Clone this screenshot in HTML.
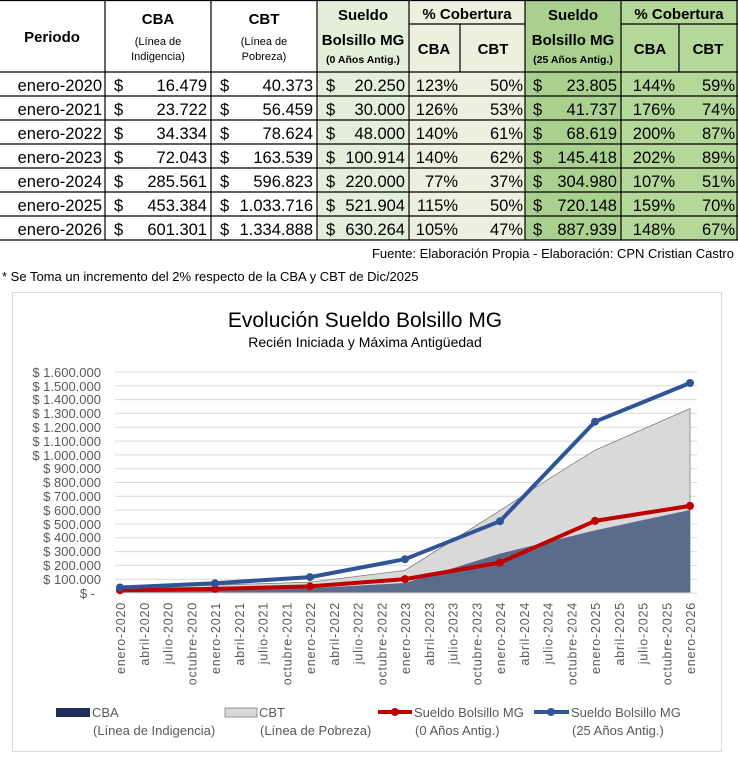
<!DOCTYPE html>
<html><head><meta charset="utf-8"><style>
body{margin:0;background:#fff;}
svg{display:block;font-family:"Liberation Sans",sans-serif;}
</style></head><body>
<svg width="738" height="768" viewBox="0 0 738 768" xmlns="http://www.w3.org/2000/svg">
<!-- table backgrounds -->
<rect x="317" y="0" width="92" height="240" fill="#e2efda"/>
<rect x="409" y="0" width="116" height="240" fill="#ebf1de"/>
<rect x="525" y="0" width="96" height="240" fill="#a9d08e"/>
<rect x="621" y="0" width="117" height="240" fill="#b4d79a"/>
<g stroke="#000" stroke-width="1.2">
<line x1="0" y1="0.5" x2="738" y2="0.5"/>
<line x1="409" y1="24" x2="525" y2="24"/><line x1="621" y1="24" x2="738" y2="24"/>
<line x1="0" y1="72" x2="738" y2="72"/><line x1="0" y1="96" x2="738" y2="96"/>
<line x1="0" y1="120" x2="738" y2="120"/><line x1="0" y1="144" x2="738" y2="144"/>
<line x1="0" y1="168" x2="738" y2="168"/><line x1="0" y1="192" x2="738" y2="192"/>
<line x1="0" y1="216" x2="738" y2="216"/><line x1="0" y1="240" x2="738" y2="240"/>
<line x1="105" y1="0" x2="105" y2="240"/><line x1="211" y1="0" x2="211" y2="240"/>
<line x1="317" y1="0" x2="317" y2="240"/><line x1="409" y1="0" x2="409" y2="240"/>
<line x1="460" y1="24" x2="460" y2="72"/><line x1="525" y1="0" x2="525" y2="240"/>
<line x1="621" y1="0" x2="621" y2="240"/><line x1="679" y1="24" x2="679" y2="72"/>
<line x1="737" y1="0" x2="737" y2="240"/>
</g>
<g font-weight="bold" font-size="15" text-anchor="middle" fill="#000">
<text x="52" y="42">Periodo</text>
<text x="158" y="24">CBA</text>
<text x="264" y="24">CBT</text>
<text x="363" y="20">Sueldo</text>
<text x="363" y="45">Bolsillo MG</text>
<text x="467" y="19">% Cobertura</text>
<text x="434" y="54">CBA</text><text x="493" y="54">CBT</text>
<text x="573" y="20">Sueldo</text>
<text x="573" y="45">Bolsillo MG</text>
<text x="679" y="19">% Cobertura</text>
<text x="650" y="54">CBA</text><text x="708" y="54">CBT</text>
</g>
<g font-size="11" text-anchor="middle" fill="#000">
<text x="158" y="45">(Línea de</text><text x="158" y="60">Indigencia)</text>
<text x="264" y="45">(Línea de</text><text x="264" y="60">Pobreza)</text>
<text x="363" y="63" font-weight="bold" font-size="10.5">(0 Años Antig.)</text>
<text x="573" y="63" font-weight="bold" font-size="10.5">(25 Años Antig.)</text>
</g>
<g font-size="16.5" fill="#000">
<g text-anchor="end">
<text x="102" y="91">enero-2020</text><text x="102" y="115">enero-2021</text><text x="102" y="139">enero-2022</text><text x="102" y="163">enero-2023</text><text x="102" y="187">enero-2024</text><text x="102" y="211">enero-2025</text><text x="102" y="235">enero-2026</text>
<text x="207" y="91">16.479</text><text x="207" y="115">23.722</text><text x="207" y="139">34.334</text><text x="207" y="163">72.043</text><text x="207" y="187">285.561</text><text x="207" y="211">453.384</text><text x="207" y="235">601.301</text>
<text x="313" y="91">40.373</text><text x="313" y="115">56.459</text><text x="313" y="139">78.624</text><text x="313" y="163">163.539</text><text x="313" y="187">596.823</text><text x="313" y="211">1.033.716</text><text x="313" y="235">1.334.888</text>
<text x="405" y="91">20.250</text><text x="405" y="115">30.000</text><text x="405" y="139">48.000</text><text x="405" y="163">100.914</text><text x="405" y="187">220.000</text><text x="405" y="211">521.904</text><text x="405" y="235">630.264</text>
<text x="458" y="91">123%</text><text x="458" y="115">126%</text><text x="458" y="139">140%</text><text x="458" y="163">140%</text><text x="458" y="187">77%</text><text x="458" y="211">115%</text><text x="458" y="235">105%</text>
<text x="523" y="91">50%</text><text x="523" y="115">53%</text><text x="523" y="139">61%</text><text x="523" y="163">62%</text><text x="523" y="187">37%</text><text x="523" y="211">50%</text><text x="523" y="235">47%</text>
<text x="617" y="91">23.805</text><text x="617" y="115">41.737</text><text x="617" y="139">68.619</text><text x="617" y="163">145.418</text><text x="617" y="187">304.980</text><text x="617" y="211">720.148</text><text x="617" y="235">887.939</text>
<text x="675" y="91">144%</text><text x="675" y="115">176%</text><text x="675" y="139">200%</text><text x="675" y="163">202%</text><text x="675" y="187">107%</text><text x="675" y="211">159%</text><text x="675" y="235">148%</text>
<text x="735" y="91">59%</text><text x="735" y="115">74%</text><text x="735" y="139">87%</text><text x="735" y="163">89%</text><text x="735" y="187">51%</text><text x="735" y="211">70%</text><text x="735" y="235">67%</text>
</g>
<g>
<text x="114" y="91">$</text><text x="114" y="115">$</text><text x="114" y="139">$</text><text x="114" y="163">$</text><text x="114" y="187">$</text><text x="114" y="211">$</text><text x="114" y="235">$</text>
<text x="220" y="91">$</text><text x="220" y="115">$</text><text x="220" y="139">$</text><text x="220" y="163">$</text><text x="220" y="187">$</text><text x="220" y="211">$</text><text x="220" y="235">$</text>
<text x="326" y="91">$</text><text x="326" y="115">$</text><text x="326" y="139">$</text><text x="326" y="163">$</text><text x="326" y="187">$</text><text x="326" y="211">$</text><text x="326" y="235">$</text>
<text x="533" y="91">$</text><text x="533" y="115">$</text><text x="533" y="139">$</text><text x="533" y="163">$</text><text x="533" y="187">$</text><text x="533" y="211">$</text><text x="533" y="235">$</text>
</g>
</g>
<text x="734" y="258" font-size="13" text-anchor="end" fill="#000">Fuente: Elaboración Propia - Elaboración: CPN Cristian Castro</text>
<text x="2" y="281" font-size="13" fill="#000">* Se Toma un incremento del 2% respecto de la CBA y CBT de Dic/2025</text>

<!-- chart -->
<rect x="12.5" y="292.5" width="709" height="459" fill="#fff" stroke="#d9d9d9"/>
<text x="365" y="327" font-size="21" text-anchor="middle" fill="#000">Evolución Sueldo Bolsillo MG</text>
<text x="365" y="347" font-size="14" text-anchor="middle" fill="#000">Recién Iniciada y Máxima Antigüedad</text>
<g stroke="#d9d9d9" stroke-width="1">
<line x1="115" x2="697" y1="372" y2="372"/><line x1="115" x2="697" y1="385.8" y2="385.8"/><line x1="115" x2="697" y1="399.6" y2="399.6"/><line x1="115" x2="697" y1="413.4" y2="413.4"/><line x1="115" x2="697" y1="427.3" y2="427.3"/><line x1="115" x2="697" y1="441.1" y2="441.1"/><line x1="115" x2="697" y1="454.9" y2="454.9"/><line x1="115" x2="697" y1="468.7" y2="468.7"/><line x1="115" x2="697" y1="482.5" y2="482.5"/><line x1="115" x2="697" y1="496.3" y2="496.3"/><line x1="115" x2="697" y1="510.1" y2="510.1"/><line x1="115" x2="697" y1="523.9" y2="523.9"/><line x1="115" x2="697" y1="537.8" y2="537.8"/><line x1="115" x2="697" y1="551.6" y2="551.6"/><line x1="115" x2="697" y1="565.4" y2="565.4"/><line x1="115" x2="697" y1="579.2" y2="579.2"/>
</g>
<g font-size="13" fill="#595959" text-anchor="end">
<text x="101" y="377">$ 1.600.000</text><text x="101" y="391">$ 1.500.000</text><text x="101" y="404">$ 1.400.000</text><text x="101" y="418">$ 1.300.000</text><text x="101" y="432">$ 1.200.000</text><text x="101" y="446">$ 1.100.000</text><text x="101" y="460">$ 1.000.000</text><text x="101" y="473">$ 900.000</text><text x="101" y="487">$ 800.000</text><text x="101" y="501">$ 700.000</text><text x="101" y="515">$ 600.000</text><text x="101" y="529">$ 500.000</text><text x="101" y="542">$ 400.000</text><text x="101" y="556">$ 300.000</text><text x="101" y="570">$ 200.000</text><text x="101" y="584">$ 100.000</text><text x="95" y="598">$ -</text>
</g>
<polygon points="120,593 120,587.4 215,585.2 310,582.1 405,570.4 500,510.6 547.5,479.7 595,450.2 690,408.6 690,593" fill="#d9d9d9" stroke="#7f7f7f" stroke-width="0.8"/>
<polygon points="120,593 120,590.7 215,589.7 310,588.3 405,583 500,553.6 595,530.4 690,510 690,593" fill="#5b6b8c"/>
<line x1="115" x2="697" y1="593" y2="593" stroke="#d9d9d9"/>
<polyline points="120,590.2 215,588.9 310,586.4 405,579.1 500,562.6 595,520.9 690,505.9" fill="none" stroke="#c00000" stroke-width="4" stroke-linejoin="round"/>
<g fill="#c00000"><circle cx="120" cy="590.2" r="4"/><circle cx="215" cy="588.9" r="4"/><circle cx="310" cy="586.4" r="4"/><circle cx="405" cy="579.1" r="4"/><circle cx="500" cy="562.6" r="4"/><circle cx="595" cy="520.9" r="4"/><circle cx="690" cy="505.9" r="4"/></g>
<polyline points="120,587.5 215,583.3 310,577.1 405,559.2 500,521.2 595,421.7 690,383" fill="none" stroke="#2f5597" stroke-width="4" stroke-linejoin="round"/>
<g fill="#2f5597"><circle cx="120" cy="587.5" r="4"/><circle cx="215" cy="583.3" r="4"/><circle cx="310" cy="577.1" r="4"/><circle cx="405" cy="559.2" r="4"/><circle cx="500" cy="521.2" r="4"/><circle cx="595" cy="421.7" r="4"/><circle cx="690" cy="383" r="4"/></g>
<g font-size="12.5" fill="#595959" text-anchor="end" letter-spacing="0.8">
<text transform="translate(125,602) rotate(-90)">enero-2020</text>
<text transform="translate(148.75,602) rotate(-90)">abril-2020</text>
<text transform="translate(172.5,602) rotate(-90)">julio-2020</text>
<text transform="translate(196.25,602) rotate(-90)">octubre-2020</text>
<text transform="translate(220,602) rotate(-90)">enero-2021</text>
<text transform="translate(243.75,602) rotate(-90)">abril-2021</text>
<text transform="translate(267.5,602) rotate(-90)">julio-2021</text>
<text transform="translate(291.25,602) rotate(-90)">octubre-2021</text>
<text transform="translate(315,602) rotate(-90)">enero-2022</text>
<text transform="translate(338.75,602) rotate(-90)">abril-2022</text>
<text transform="translate(362.5,602) rotate(-90)">julio-2022</text>
<text transform="translate(386.25,602) rotate(-90)">octubre-2022</text>
<text transform="translate(410,602) rotate(-90)">enero-2023</text>
<text transform="translate(433.75,602) rotate(-90)">abril-2023</text>
<text transform="translate(457.5,602) rotate(-90)">julio-2023</text>
<text transform="translate(481.25,602) rotate(-90)">octubre-2023</text>
<text transform="translate(505,602) rotate(-90)">enero-2024</text>
<text transform="translate(528.75,602) rotate(-90)">abril-2024</text>
<text transform="translate(552.5,602) rotate(-90)">julio-2024</text>
<text transform="translate(576.25,602) rotate(-90)">octubre-2024</text>
<text transform="translate(600,602) rotate(-90)">enero-2025</text>
<text transform="translate(623.75,602) rotate(-90)">abril-2025</text>
<text transform="translate(647.5,602) rotate(-90)">julio-2025</text>
<text transform="translate(671.25,602) rotate(-90)">octubre-2025</text>
<text transform="translate(695,602) rotate(-90)">enero-2026</text>
</g>
<!-- legend -->
<rect x="56" y="708" width="34" height="9" fill="#1f2d5a"/>
<rect x="225" y="708" width="32" height="9" fill="#d9d9d9" stroke="#7f7f7f" stroke-width="0.8"/>
<line x1="378" y1="712" x2="412" y2="712" stroke="#c00000" stroke-width="4"/><circle cx="395" cy="712" r="4" fill="#c00000"/>
<line x1="534" y1="712" x2="569" y2="712" stroke="#2f5597" stroke-width="4"/><circle cx="551" cy="712" r="4" fill="#2f5597"/>
<g font-size="13" fill="#595959">
<text x="92" y="717">CBA</text><text x="93" y="735">(Línea de Indigencia)</text>
<text x="259" y="717">CBT</text><text x="260" y="735">(Línea de Pobreza)</text>
<text x="414" y="717">Sueldo Bolsillo MG</text><text x="415" y="735">(0 Años Antig.)</text>
<text x="571" y="717">Sueldo Bolsillo MG</text><text x="572" y="735">(25 Años Antig.)</text>
</g>
</svg>
</body></html>
